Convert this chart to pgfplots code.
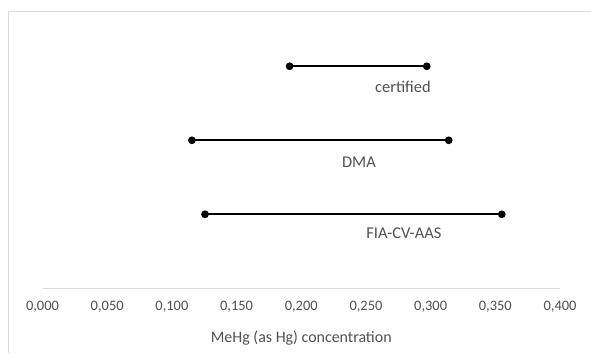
\documentclass[border=0pt]{standalone}
\usepackage{pgfplots}
\pgfplotsset{compat=1.18}
\usepackage{fontspec}
\setmainfont{Carlito}
\definecolor{axgray}{RGB}{217,217,217}
\definecolor{txtgray}{RGB}{80,80,80}
\begin{document}
\begin{tikzpicture}[x=1bp,y=1bp]
\path[use as bounding box] (0,0) rectangle (591,353);
\draw[axgray, line width=1bp] (8.3,0) -- (8.3,341) -- (591,341);
\begin{axis}[
  at={(42.5bp,64.7bp)}, anchor=south west,
  scale only axis, width=517.5bp, height=259bp,
  xmin=0, xmax=0.4, ymin=0, ymax=3.5,
  axis x line*=bottom, hide y axis,
  x axis line style={axgray, line width=1bp},
  xtick={0,0.05,0.1,0.15,0.2,0.25,0.3,0.35,0.4},
  xticklabels={{0,000},{0,050},{0,100},{0,150},{0,200},{0,250},{0,300},{0,350},{0,400}},
  major tick length=0pt,
  xticklabel style={anchor=center, yshift=-18.4bp, text=txtgray, font=\fontsize{14.5}{17}\selectfont},
  xlabel={MeHg (as Hg) concentration},
  xlabel style={at={(axis description cs:0.5,0)}, anchor=center, yshift=-49.7bp, text=txtgray, font=\fontsize{16}{19}\selectfont},
  clip=false,
]
\addplot[black, line width=2bp, mark=*, mark size=2.8bp] coordinates {(0.191,3) (0.297,3)};
\addplot[black, line width=2bp, mark=*, mark size=2.8bp] coordinates {(0.1155,2) (0.314,2)};
\addplot[black, line width=2bp, mark=*, mark size=2.8bp] coordinates {(0.1256,1) (0.355,1)};
\node[txtgray, font=\fontsize{16.5}{20}\selectfont] at (axis cs:0.2786,3) [yshift=-20.5bp] {certified};
\node[txtgray, font=\fontsize{16.5}{20}\selectfont] at (axis cs:0.2446,2) [yshift=-22bp] {DMA};
\node[txtgray, font=\fontsize{16.5}{20}\selectfont] at (axis cs:0.2793,1) [yshift=-19bp] {FIA-CV-AAS};
\end{axis}
\end{tikzpicture}
\end{document}
